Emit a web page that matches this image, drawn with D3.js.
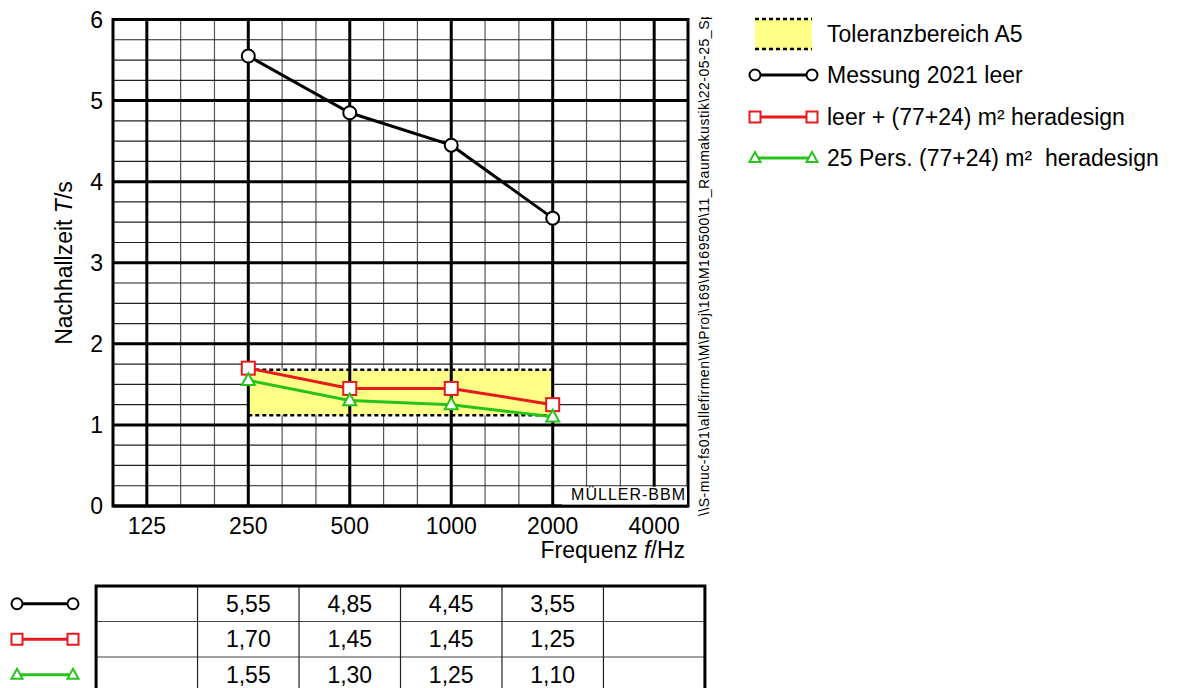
<!DOCTYPE html>
<html><head><meta charset="utf-8">
<script src="https://cdn.jsdelivr.net/npm/d3@7"></script>
<style>
html,body{margin:0;padding:0;background:#fff;}
svg{display:block;font-family:Arial,"Liberation Sans",sans-serif;}
text{white-space:pre;}
</style></head>
<body>
<svg id="chart" width="1183" height="688"></svg>
<script>
// ---------- data ----------
const bandFreqs = [250, 500, 1000, 2000];
const axisFreqs = [125, 250, 500, 1000, 2000, 4000];
const yTicks = [0, 1, 2, 3, 4, 5, 6];
const messung2021 = [5.55, 4.85, 4.45, 3.55];
const leerHeradesign = [1.70, 1.45, 1.45, 1.25];
const persHeradesign = [1.55, 1.30, 1.25, 1.10];
const toleranceFreqs = [250, 2000];
const toleranceLow = [1.12, 1.12];
const toleranceHigh = [1.68, 1.68];
const legendLabels = ["Toleranzbereich A5", "Messung 2021 leer", "leer + (77+24) m² heradesign", "25 Pers. (77+24) m²  heradesign"];
const filePath = "\\\\S-muc-fs01\\allefirmen\\M\\Proj\\169\\M169500\\11_Raumakustik\\22-05-25_Sprachverstaendlichkeit";

const series = [
  {name: legendLabels[1], values: messung2021, color: "#000000", marker: "circle"},
  {name: legendLabels[2], values: leerHeradesign, color: "#e8191c", marker: "square"},
  {name: legendLabels[3], values: persHeradesign, color: "#27c21b", marker: "triangle"}
];

const FS = 23;

// ---------- scales ----------
const third = Math.pow(2, 1/3);
const x = d3.scaleLog().domain([125 / third, 4000 * third]).range([113, 688]);
const y = d3.scaleLinear().domain([0, 6]).range([506, 19.5]);

const svg = d3.select("#chart");
const fmt = d3.formatLocale({decimal: ",", thousands: ".", grouping: [3], currency: ["", "€"]}).format(".2f");

// ---------- grid ----------
const g = svg.append("g");
const minorX = d3.range(-1, 17).map(k => 125 * Math.pow(2, k / 3));
const minorY = d3.range(0, 6.001, 0.25);
g.selectAll(".vx").data(minorX).join("line")
  .attr("x1", d => x(d)).attr("x2", d => x(d))
  .attr("y1", y(0)).attr("y2", y(6))
  .attr("stroke", "#555").attr("stroke-width", 1.2);
g.selectAll(".hy").data(minorY).join("line")
  .attr("x1", x.range()[0]).attr("x2", x.range()[1])
  .attr("y1", d => y(d)).attr("y2", d => y(d))
  .attr("stroke", "#222").attr("stroke-width", 1.2);

// tolerance band
const band = d3.area()
  .x((d, i) => x(toleranceFreqs[i]))
  .y0((d, i) => y(toleranceLow[i]))
  .y1((d, i) => y(toleranceHigh[i]));
g.append("path").datum(toleranceFreqs).attr("d", band).attr("fill", "#ffff88");

// major grid
g.selectAll(".mx").data(axisFreqs).join("line")
  .attr("x1", d => x(d)).attr("x2", d => x(d))
  .attr("y1", y(0)).attr("y2", y(6))
  .attr("stroke", "#000").attr("stroke-width", 3);
g.selectAll(".my").data(yTicks).join("line")
  .attr("x1", x.range()[0]).attr("x2", x.range()[1])
  .attr("y1", d => y(d)).attr("y2", d => y(d))
  .attr("stroke", "#000").attr("stroke-width", 3);

// tolerance dashed edges
[toleranceLow, toleranceHigh].forEach(arr => {
  g.append("path").datum(toleranceFreqs)
    .attr("d", d3.line().x(d => x(d)).y((d, i) => y(arr[i])))
    .attr("fill", "none").attr("stroke", "#000").attr("stroke-width", 2.5)
    .attr("stroke-dasharray", "4,3");
});

// border
g.append("rect").attr("x", x.range()[0]).attr("y", y(6))
  .attr("width", x.range()[1] - x.range()[0]).attr("height", y(0) - y(6))
  .attr("fill", "none").attr("stroke", "#000").attr("stroke-width", 3);

// MÜLLER-BBM box
g.append("rect").attr("x", 562).attr("y", y(0.25) + 1)
  .attr("width", x.range()[1] - 563).attr("height", y(0) - y(0.25) - 2.5).attr("fill", "#fff");
g.append("text").attr("x", 686).attr("y", 500).attr("text-anchor", "end")
  .attr("font-size", 16).attr("letter-spacing", 1).text("MÜLLER-BBM");

// ---------- markers ----------
function drawMarker(sel, type, color, cx, cy, s) {
  if (type === "circle") {
    sel.append("circle").attr("cx", cx).attr("cy", cy).attr("r", s * 0.5)
      .attr("fill", "#fff").attr("stroke", color).attr("stroke-width", 2);
  } else if (type === "square") {
    sel.append("rect").attr("x", cx - s / 2).attr("y", cy - s / 2).attr("width", s).attr("height", s)
      .attr("fill", "#fff").attr("stroke", color).attr("stroke-width", 2);
  } else {
    const h = s * 0.9;
    sel.append("path")
      .attr("d", `M${cx},${cy - h * 0.6}L${cx + s / 2},${cy + h * 0.4}L${cx - s / 2},${cy + h * 0.4}Z`)
      .attr("fill", "#fff").attr("stroke", color).attr("stroke-width", 2);
  }
}

// ---------- series ----------
const line = d3.line().x((d, i) => x(bandFreqs[i])).y(d => y(d));
series.forEach(s => {
  g.append("path").datum(s.values).attr("d", line)
    .attr("fill", "none").attr("stroke", s.color).attr("stroke-width", 3);
});
series.forEach(s => {
  s.values.forEach((v, i) => drawMarker(g, s.marker, s.color, x(bandFreqs[i]), y(v), 13));
});

// ---------- axes labels ----------
svg.append("g").selectAll("text").data(yTicks).join("text")
  .attr("x", 103).attr("y", d => y(d) + 8).attr("text-anchor", "end")
  .attr("font-size", FS).text(d => d);
svg.append("g").selectAll("text").data(axisFreqs).join("text")
  .attr("x", d => x(d)).attr("y", 534).attr("text-anchor", "middle")
  .attr("font-size", FS).text(d => d);

const xl = svg.append("text").attr("x", 685).attr("y", 558).attr("text-anchor", "end").attr("font-size", FS);
xl.append("tspan").text("Frequenz ");
xl.append("tspan").attr("font-style", "italic").text("f");
xl.append("tspan").text("/Hz");

const yl = svg.append("text").attr("transform", "translate(72,263) rotate(-90)")
  .attr("text-anchor", "middle").attr("font-size", FS);
yl.append("tspan").text("Nachhallzeit ");
yl.append("tspan").attr("font-style", "italic").text("T");
yl.append("tspan").text("/s");

// vertical file path (clipped at the top)
svg.append("clipPath").attr("id", "pathclip").append("rect")
  .attr("x", 690).attr("y", 17).attr("width", 40).attr("height", 510);
svg.append("g").attr("clip-path", "url(#pathclip)")
  .append("text")
  .attr("transform", "translate(709,516) rotate(-90)")
  .attr("font-size", 14).attr("letter-spacing", 0.5).text(filePath);

// ---------- legend ----------
const lg = svg.append("g");
const lx0 = 755, lx1 = 812, ltx = 827;
const legendRows = [34, 75, 117, 158];
lg.append("rect").attr("x", lx0).attr("y", 19).attr("width", lx1 - lx0).attr("height", 31).attr("fill", "#ffff88");
[19, 49].forEach(yy => lg.append("line").attr("x1", lx0).attr("x2", lx1).attr("y1", yy).attr("y2", yy)
  .attr("stroke", "#000").attr("stroke-width", 2.5).attr("stroke-dasharray", "4,3"));
lg.append("text").attr("x", ltx).attr("y", legendRows[0] + 7.5).attr("font-size", FS).text(legendLabels[0]);
series.forEach((s, i) => {
  const yy = legendRows[i + 1];
  lg.append("line").attr("x1", lx0).attr("x2", lx1).attr("y1", yy).attr("y2", yy)
    .attr("stroke", s.color).attr("stroke-width", 3);
  drawMarker(lg, s.marker, s.color, lx0, yy, 11);
  drawMarker(lg, s.marker, s.color, lx1, yy, 11);
  lg.append("text").attr("x", ltx).attr("y", yy + 7.5).attr("font-size", FS).text(s.name);
});

// ---------- table ----------
const tg = svg.append("g");
const tLeft = x(125 / Math.SQRT2), tRight = x(4000 * Math.SQRT2);
const tTop = 586, rowH = 35.5;
const colEdges = axisFreqs.map(f => x(f / Math.SQRT2)).concat([tRight]);
series.forEach((s, r) => {
  const cy = tTop + rowH * (r + 0.5);
  tg.append("line").attr("x1", 17).attr("x2", 73).attr("y1", cy).attr("y2", cy)
    .attr("stroke", s.color).attr("stroke-width", 3);
  drawMarker(tg, s.marker, s.color, 17, cy, 11);
  drawMarker(tg, s.marker, s.color, 73, cy, 11);
  s.values.forEach((v, i) => {
    tg.append("text").attr("x", x(bandFreqs[i])).attr("y", cy + 8)
      .attr("text-anchor", "middle").attr("font-size", FS).text(fmt(v));
  });
  if (r > 0) tg.append("line").attr("x1", tLeft).attr("x2", tRight).attr("y1", tTop + rowH * r).attr("y2", tTop + rowH * r)
    .attr("stroke", "#444").attr("stroke-width", 1.2);
});
colEdges.slice(1, -1).forEach(cx => tg.append("line").attr("x1", cx).attr("x2", cx)
  .attr("y1", tTop).attr("y2", 690).attr("stroke", "#222").attr("stroke-width", 1.2));
tg.append("path").attr("d", `M${tLeft},692V${tTop}H${tRight}V692`)
  .attr("fill", "none").attr("stroke", "#000").attr("stroke-width", 3);
</script>
</body></html>
